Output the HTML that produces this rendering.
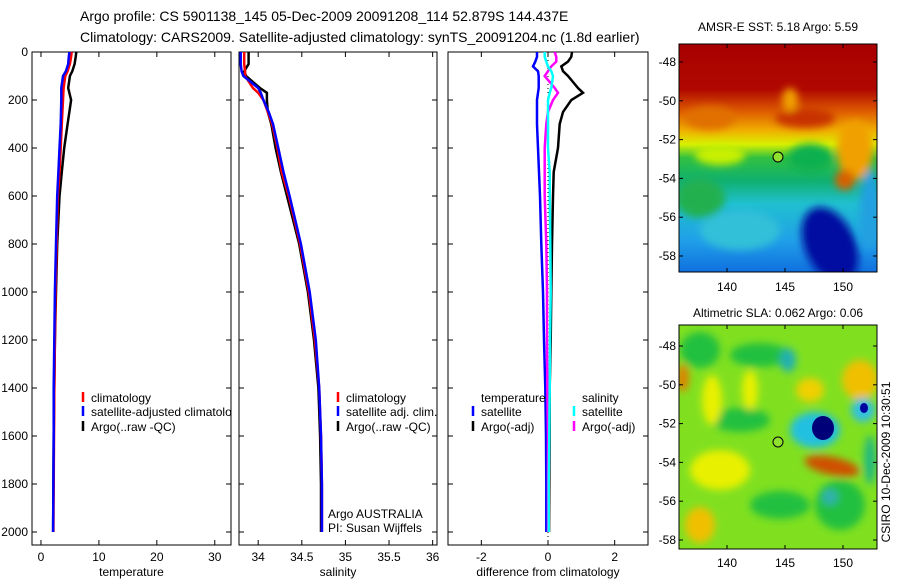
<!DOCTYPE html>
<html><head><meta charset="utf-8"><style>
body{margin:0;background:#fff;}
svg{display:block;font-family:"Liberation Sans",sans-serif;}
</style></head><body>
<svg id="fig" width="900" height="580" viewBox="0 0 900 580">
<defs>
<clipPath id="c1"><rect x="32" y="52" width="199" height="493"/></clipPath>
<clipPath id="c2"><rect x="239" y="52" width="198" height="493"/></clipPath>
<clipPath id="c3"><rect x="448" y="52" width="200" height="493"/></clipPath>
<clipPath id="m1"><rect x="679" y="44" width="198" height="228"/></clipPath>
<clipPath id="m2"><rect x="679" y="325" width="198" height="224"/></clipPath>
<filter id="bl" x="-50%" y="-50%" width="200%" height="200%"><feGaussianBlur stdDeviation="4"/></filter>
<linearGradient id="sstg" x1="0" y1="0" x2="0" y2="1">
<stop offset="0" stop-color="#a80000"/><stop offset="0.2" stop-color="#b00800"/>
<stop offset="0.3" stop-color="#e06000"/><stop offset="0.38" stop-color="#f0b000"/>
<stop offset="0.44" stop-color="#d8f000"/><stop offset="0.5" stop-color="#30c040"/>
<stop offset="0.6" stop-color="#10b070"/><stop offset="0.7" stop-color="#20c0d0"/>
<stop offset="0.86" stop-color="#20a0e8"/><stop offset="1" stop-color="#1070e0"/>
</linearGradient>
</defs>
<text x="80" y="21" font-size="14">Argo profile: CS 5901138_145 05-Dec-2009 20091208_114 52.879S 144.437E</text>
<text x="80" y="42" font-size="14">Climatology: CARS2009. Satellite-adjusted climatology: synTS_20091204.nc (1.8d earlier)</text>
<g id="axes"></g>
<g id="maps">
<text x="778" y="31" font-size="12" text-anchor="middle">AMSR-E SST: 5.18 Argo: 5.59</text>
<g clip-path="url(#m1)">
<rect x="679" y="44" width="198" height="228" fill="url(#sstg)"/>
<g filter="url(#bl)">
<ellipse cx="805" cy="118" rx="30" ry="10" fill="#c83000"/>
<ellipse cx="710" cy="118" rx="25" ry="12" fill="#e07000"/>
<ellipse cx="790" cy="100" rx="8" ry="12" fill="#f0a000"/>
<ellipse cx="855" cy="150" rx="18" ry="30" fill="#f0a000"/>
<ellipse cx="845" cy="180" rx="10" ry="10" fill="#d86000"/>
<ellipse cx="810" cy="158" rx="22" ry="14" fill="#10b050"/>
<ellipse cx="700" cy="198" rx="25" ry="20" fill="#20b050"/>
<ellipse cx="740" cy="230" rx="40" ry="20" fill="#30c0d8"/>
<ellipse cx="830" cy="245" rx="25" ry="40" fill="#0010a0" transform="rotate(-25 830 245)"/>
<ellipse cx="870" cy="210" rx="10" ry="40" fill="#20a0e0"/>
<ellipse cx="720" cy="155" rx="25" ry="10" fill="#c8f000"/>
</g>
</g>
<rect x="679" y="44" width="198" height="228" fill="none" stroke="#000"/>
<circle cx="778" cy="157" r="5" fill="#90e030" stroke="#000"/>
<text x="778" y="317" font-size="12" text-anchor="middle">Altimetric SLA: 0.062 Argo: 0.06</text>
<g clip-path="url(#m2)">
<rect x="679" y="325" width="198" height="224" fill="#80e020"/>
<g filter="url(#bl)">
<ellipse cx="700" cy="350" rx="20" ry="18" fill="#20c040"/>
<ellipse cx="760" cy="355" rx="30" ry="12" fill="#20c040"/>
<ellipse cx="740" cy="420" rx="30" ry="12" fill="#20c040"/>
<ellipse cx="712" cy="400" rx="10" ry="25" fill="#e8f000"/>
<ellipse cx="750" cy="390" rx="8" ry="20" fill="#e8f000"/>
<ellipse cx="860" cy="380" rx="18" ry="20" fill="#f0c000"/>
<ellipse cx="810" cy="390" rx="14" ry="12" fill="#f0d000"/>
<ellipse cx="683" cy="378" rx="6" ry="14" fill="#e08000"/>
<ellipse cx="720" cy="470" rx="30" ry="20" fill="#e8f000"/>
<ellipse cx="700" cy="525" rx="15" ry="18" fill="#f0c000"/>
<ellipse cx="780" cy="505" rx="30" ry="14" fill="#20c040"/>
<ellipse cx="840" cy="505" rx="25" ry="25" fill="#20c040"/>
<ellipse cx="788" cy="360" rx="8" ry="12" fill="#20b0b0"/>
<ellipse cx="815" cy="430" rx="25" ry="18" fill="#20c0e0"/>
<ellipse cx="863" cy="410" rx="12" ry="12" fill="#30c0e0"/>
<ellipse cx="870" cy="460" rx="6" ry="25" fill="#20b880"/>
<ellipse cx="832" cy="466" rx="28" ry="9" fill="#d05000" transform="rotate(12 832 466)"/>
<ellipse cx="830" cy="497" rx="8" ry="8" fill="#30b0b0"/>
</g>
<ellipse cx="823" cy="428" rx="11" ry="12" fill="#000078"/>
<ellipse cx="864" cy="408" rx="4" ry="5" fill="#0000a0"/>
</g>
<rect x="679" y="325" width="198" height="224" fill="none" stroke="#000"/>
<circle cx="778" cy="442" r="5" fill="#90e030" stroke="#000"/>
<text transform="translate(890,462) rotate(-90)" font-size="12" text-anchor="middle">CSIRO 10-Dec-2009 10:30:51</text>
</g>
</svg>
<script>
// Temperature panel data
const tDepth=[0,20,50,80,100,150,200,300,400,500,600,800,1000,1200,1400,1600,1800,2000];
const tClim=[5.3,5.2,5.0,4.6,4.2,3.9,3.8,3.6,3.4,3.2,2.9,2.7,2.5,2.4,2.3,2.25,2.2,2.15];
const tSat=[4.9,4.8,4.7,4.3,3.8,3.5,3.5,3.4,3.2,3.0,2.8,2.6,2.4,2.3,2.2,2.2,2.15,2.1];
const tArgo=[6.1,6.0,5.8,5.4,5.0,4.7,5.2,4.6,4.0,3.6,3.2,2.8,2.6,2.4,2.3,2.2,2.15,2.1];
// Salinity panel data
const sDepth=[0,50,80,100,150,170,200,250,300,400,500,600,800,1000,1200,1400,1600,1800,2000];
const sClim=[33.84,33.84,33.85,33.85,33.94,34.0,34.06,34.11,34.16,34.22,34.27,34.35,34.48,34.58,34.65,34.7,34.72,34.73,34.73];
const sSat=[33.8,33.8,33.81,33.83,34.0,34.03,34.06,34.12,34.17,34.23,34.29,34.36,34.49,34.59,34.66,34.7,34.72,34.73,34.73];
const sArgo=[33.89,33.89,33.84,33.86,34.02,34.1,34.1,34.11,34.15,34.2,34.26,34.33,34.47,34.57,34.64,34.69,34.71,34.72,34.72];
// Difference panel data
const dDepth=[0,20,40,60,80,100,150,170,200,250,300,400,500,600,800,1000,1200,1400,1600,1800,2000];
const dTSat=[-0.33,-0.33,-0.38,-0.45,-0.3,-0.28,-0.28,-0.3,-0.33,-0.33,-0.33,-0.3,-0.27,-0.24,-0.2,-0.15,-0.12,-0.08,-0.06,-0.05,-0.05];
const dTArgo=[0.72,0.7,0.6,0.4,0.45,0.6,0.9,1.05,0.7,0.45,0.35,0.3,0.17,0.15,0.12,0.1,0.08,0.05,0.05,0.04,0.03];
const dSSat=[-0.1,-0.1,-0.05,0,0.1,0.15,0.1,0.05,0,0,0,0,0.05,0.05,0.07,0.08,0.06,0.05,0.04,0.02,0.02];
const dSArgo=[0.2,0.25,0.25,0.1,0,-0.1,0.2,0.3,0.15,0,-0.05,-0.1,-0.1,-0.1,-0.05,-0.03,-0.03,-0.02,0,0,0];
const depthTicks=[0,200,400,600,800,1000,1200,1400,1600,1800,2000];
const tTicks=[0,10,20,30];
const sTicks=[34,34.5,35,35.5,36];
const dTicks=[-2,0,2];
const lonTicks=[140,145,150];
const latTicks=[-48,-50,-52,-54,-56,-58];

const NS="http://www.w3.org/2000/svg";
const g=document.getElementById('axes');
function el(t,a,p){const e=document.createElementNS(NS,t);for(const k in a)e.setAttribute(k,a[k]);(p||g).appendChild(e);return e;}
const yD=d=>52+0.24*d;
const panels=[
 {x0:32,w:199,v0:-1.55,v1:32.8,ticks:tTicks,label:'temperature',clip:'c1',name:'temperature'},
 {x0:239,w:198,v0:33.78,v1:36.05,ticks:sTicks,label:'salinity',clip:'c2',name:'salinity'},
 {x0:448,w:200,v0:-3,v1:3,ticks:dTicks,label:'difference from climatology',clip:'c3',name:'difference'}
];
panels.forEach(p=>{p.x=v=>p.x0+(v-p.v0)/(p.v1-p.v0)*p.w;});
function line(p,ys,vs,col,name){
 const pts=ys.map((d,i)=>p.x(vs[i]).toFixed(1)+','+yD(d).toFixed(1)).join(' ');
 const e=el('polyline',{points:pts,fill:'none',stroke:col,'stroke-width':2.5,'clip-path':'url(#'+p.clip+')'});
 
 
}
panels.forEach((p,i)=>{
 const fr=el('rect',{x:p.x0,y:52,width:p.w,height:493,fill:'none',stroke:'#000'});
 
 
 p.ticks.forEach(v=>{
  const X=p.x(v);
  el('line',{x1:X,x2:X,y1:52,y2:57,stroke:'#000'});
  el('line',{x1:X,x2:X,y1:545,y2:540,stroke:'#000'});
  const t=el('text',{x:X,y:561,'font-size':12,'text-anchor':'middle'});t.textContent=String(v);
  
  
 });
 depthTicks.forEach(d=>{
  el('line',{x1:p.x0,x2:p.x0+5,y1:yD(d),y2:yD(d),stroke:'#000'});
  el('line',{x1:p.x0+p.w,x2:p.x0+p.w-5,y1:yD(d),y2:yD(d),stroke:'#000'});
  if(i===0){const t=el('text',{x:28,y:yD(d)+4,'font-size':12,'text-anchor':'end'});t.textContent=String(d);
   
   }
 });
 const at=el('text',{x:p.x0+p.w/2,y:576,'font-size':12,'text-anchor':'middle'});at.textContent=p.label;
 
 
});
const zl=el('line',{x1:panels[2].x(0),x2:panels[2].x(0),y1:52,y2:545,stroke:'#000','stroke-dasharray':'1,3'});


const P=panels;
line(P[0],tDepth,tArgo,'#000','temperature-argo-line');
line(P[0],tDepth,tClim,'#f00','temperature-climatology-line');
line(P[0],tDepth,tSat,'#00f','temperature-satellite-line');
line(P[1],sDepth,sArgo,'#000','salinity-argo-line');
line(P[1],sDepth,sClim,'#f00','salinity-climatology-line');
line(P[1],sDepth,sSat,'#00f','salinity-satellite-line');
line(P[2],dDepth,dTArgo,'#000','diff-temp-argo-line');
line(P[2],dDepth,dTSat,'#00f','diff-temp-satellite-line');
line(P[2],dDepth,dSArgo,'#f0f','diff-sal-argo-line');
line(P[2],dDepth,dSSat,'#0ff','diff-sal-satellite-line');
function leg(x,y,col,txt,name,clip){
 if(col){const b=el('line',{x1:x,x2:x,y1:y-10,y2:y,stroke:col,'stroke-width':2.5});
  
  }
 const t=el('text',{x:x+8,y:y,'font-size':12});t.textContent=txt;
 if(clip)t.setAttribute('clip-path','url(#'+clip+')');
 
 
}
leg(83,402,'#f00','climatology','legend-climatology','c1');
leg(83,416,'#00f','satellite-adjusted climatology','legend-satellite','c1');
leg(83,431,'#000','Argo(..raw -QC)','legend-argo','c1');
leg(338,402,'#f00','climatology','legend-sal-climatology');
leg(338,416,'#00f','satellite adj. clim.','legend-sal-satellite');
leg(338,431,'#000','Argo(..raw -QC)','legend-sal-argo');
leg(320,518,null,'Argo AUSTRALIA','argo-australia-label');
leg(320,532,null,'PI: Susan Wijffels','pi-label');
leg(473,402,null,'temperature','legend-temperature-header');
leg(473,416,'#00f','satellite','legend-temp-satellite');
leg(473,431,'#000','Argo(-adj)','legend-temp-argo');
leg(574,402,null,'salinity','legend-salinity-header');
leg(574,416,'#0ff','satellite','legend-sal-sat');
leg(574,431,'#f0f','Argo(-adj)','legend-sal-argo-adj');
const svg=document.getElementById('fig');
const lonX=v=>727+(v-140)*11.6;
[[44,272,62],[325,549,346]].forEach(([top,bot,y48],mi)=>{
 lonTicks.forEach(v=>{
  el('line',{x1:lonX(v),x2:lonX(v),y1:top,y2:top+4,stroke:'#000'},svg);
  el('line',{x1:lonX(v),x2:lonX(v),y1:bot,y2:bot-4,stroke:'#000'},svg);
  const t=el('text',{x:lonX(v),y:mi===0?291:567,'font-size':12,'text-anchor':'middle'},svg);t.textContent=String(v);
  
  
 });
 latTicks.forEach(v=>{
  const Y=y48+(-48-v)*19.4;
  el('line',{x1:679,x2:683,y1:Y,y2:Y,stroke:'#000'},svg);
  el('line',{x1:877,x2:873,y1:Y,y2:Y,stroke:'#000'},svg);
  const t=el('text',{x:676,y:Y+4,'font-size':12,'text-anchor':'end'},svg);t.textContent=String(v);
  
  
 });
});
</script>
</body></html>
